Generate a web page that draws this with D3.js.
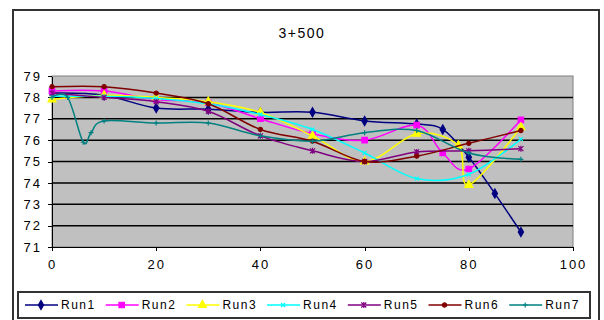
<!DOCTYPE html>
<html lang="en">
<head>
    <meta charset="UTF-8">
    <title>3+500</title>
    <style>
        body{
            margin: 0;
            background: #fff;
            font-family: "Liberation Sans", Arial, sans-serif;
        }
        .axis path,
        .axis line {
            fill: none;
            stroke: #000;
            shape-rendering: crispEdges;
        }
        .axis text {
            font-family: "Liberation Sans", Arial, sans-serif;
            font-size: 13px;
            letter-spacing: 2px;
            fill: #000;
        }
        .grid line {
            stroke: #000;
            stroke-width: 1.5;
        }
    </style>
</head>
<body>
    <svg width="604" height="320"></svg>
    <script src="https://d3js.org/d3.v7.min.js"></script>
    <script>
        // data
        var seriesNames = ["Run1", "Run2", "Run3", "Run4", "Run5", "Run6", "Run7"];
        var run1X = [0, 10, 20, 30, 40, 50, 60, 70, 75, 80, 85, 90];
        var run1Y = [78.2, 78.1, 77.5, 77.45, 77.3, 77.3, 76.9, 76.75, 76.5, 75.2, 73.5, 71.7];
        var run2X = [0, 10, 20, 30, 40, 50, 60, 70, 75, 80, 90];
        var run2Y = [78.3, 78.3, 77.9, 77.75, 77.0, 76.3, 76.0, 76.7, 75.4, 74.65, 76.95];
        var run3X = [0, 10, 20, 30, 40, 50, 60, 70, 78, 80, 90];
        var run3Y = [77.9, 78.1, 78.0, 77.8, 77.3, 76.2, 75.0, 76.3, 75.75, 73.9, 76.6];
        var run4X = [0, 10, 20, 30, 40, 50, 60, 70, 80, 90];
        var run4Y = [78.05, 78.05, 77.95, 77.7, 77.2, 76.5, 75.4, 74.2, 74.4, 76.05];
        var run5X = [0, 10, 20, 30, 40, 50, 60, 70, 80, 90];
        var run5Y = [78.2, 78.0, 77.8, 77.35, 76.2, 75.5, 75.0, 75.45, 75.5, 75.6];
        var run6X = [0, 10, 20, 30, 40, 50, 60, 70, 80, 90];
        var run6Y = [78.5, 78.5, 78.2, 77.7, 76.5, 75.95, 75.0, 75.25, 75.85, 76.45];
        var run7X = [0, 3, 6, 7.5, 10, 20, 30, 40, 50, 60, 70, 80, 90];
        var run7Y = [78.0, 78.0, 75.9, 76.35, 76.9, 76.8, 76.8, 76.2, 75.95, 76.35, 76.45, 75.4, 75.1];
        var xTicks = [0, 20, 40, 60, 80, 100];
        var yTicks = [71, 72, 73, 74, 75, 76, 77, 78, 79];

        var colors = ["#000080", "#ff00ff", "#ffff00", "#00ffff", "#800080", "#800000", "#008080"];
        var symbols = ["diamond", "square", "triangle", "x", "star", "circle", "plus"];

        var runs = [[run1X, run1Y], [run2X, run2Y], [run3X, run3Y], [run4X, run4Y],
                    [run5X, run5Y], [run6X, run6Y], [run7X, run7Y]].map(function(r, i){
            return {
                name: seriesNames[i],
                color: colors[i],
                symbol: symbols[i],
                values: r[0].map(function(x, j){ return {x: x, y: r[1][j]}; })
            };
        });

        var svg = d3.select("svg"),
            margin = {top: 76, right: 31, bottom: 73, left: 52},
            width = svg.attr("width") - margin.left - margin.right,
            height = svg.attr("height") - margin.top - margin.bottom;

        // outer chart frame
        svg.append("rect")
            .attr("x", 13).attr("y", 10)
            .attr("width", 586).attr("height", 320)
            .attr("fill", "#fff")
            .attr("stroke", "#333")
            .attr("stroke-width", 2);

        svg.append("text")
            .attr("x", 302)
            .attr("y", 38)
            .attr("text-anchor", "middle")
            .style("font-size", "14px")
            .style("letter-spacing", "1.5px")
            .text("3+500");

        var g = svg.append("g").attr("transform", "translate(" + margin.left + "," + margin.top + ")");

        var x = d3.scaleLinear().domain([0, 100]).range([0, width]);
        var y = d3.scaleLinear().domain([71, 79]).range([height, 0]);

        g.append("rect")
            .attr("width", width)
            .attr("height", height)
            .attr("fill", "#c0c0c0")
            .attr("stroke", "#808080");

        g.append("g")
            .attr("class", "grid")
            .selectAll("line")
            .data(yTicks.filter(function(d){ return d > 71 && d < 79; }))
            .enter().append("line")
            .attr("x1", 0)
            .attr("x2", width)
            .attr("y1", function(d){ return y(d); })
            .attr("y2", function(d){ return y(d); });

        g.append("g")
            .attr("class", "x axis")
            .attr("transform", "translate(0," + height + ")")
            .call(d3.axisBottom(x).tickValues(xTicks).tickSizeInner(4).tickSizeOuter(0).tickPadding(9));

        g.append("g")
            .attr("class", "y axis")
            .call(d3.axisLeft(y).tickValues(yTicks).tickSizeInner(4).tickSizeOuter(0).tickPadding(6));

        g.selectAll(".axis .domain").attr("stroke-width", 1.5);

        var line = d3.line()
            .x(function(d){ return x(d.x); })
            .y(function(d){ return y(d.y); })
            .curve(d3.curveCatmullRom.alpha(0));

        function markerPath(sym){
            if (sym === "x") return "M-2,-2L2,2M-2,2L2,-2";
            if (sym === "star") return "M-2.5,-2.5L2.5,2.5M-2.5,2.5L2.5,-2.5M0,-3V3";
            if (sym === "plus") return "M-2.5,0H2.5M0,-2.5V2.5";
            var t = {diamond: d3.symbolDiamond, square: d3.symbolSquare, triangle: d3.symbolTriangle, circle: d3.symbolCircle}[sym];
            var size = {diamond: 24, square: 30, triangle: 28, circle: 14}[sym];
            return d3.symbol().type(t).size(size)();
        }

        var series = g.selectAll(".run")
            .data(runs)
            .enter().append("g")
            .attr("class", "run");

        series.append("path")
            .attr("d", function(d){ return line(d.values); })
            .attr("fill", "none")
            .attr("stroke", function(d){ return d.color; })
            .attr("stroke-width", 1.5);

        series.selectAll(".pt")
            .data(function(d){ return d.values.map(function(v){ return {x: v.x, y: v.y, run: d}; }); })
            .enter().append("path")
            .attr("class", "pt")
            .attr("transform", function(d){ return "translate(" + x(d.x) + "," + y(d.y) + ")"; })
            .attr("d", function(d){ return markerPath(d.run.symbol); })
            .attr("fill", function(d){ return d.run.color; })
            .attr("stroke", function(d){ return d.run.color; })
            .attr("stroke-width", 1.2);

        // legend
        var lg = svg.append("g").attr("transform", "translate(18,292)");
        lg.append("rect")
            .attr("width", 572)
            .attr("height", 26)
            .attr("fill", "#fff")
            .attr("stroke", "#333")
            .attr("stroke-width", 2);

        var item = lg.selectAll(".legend")
            .data(runs)
            .enter().append("g")
            .attr("class", "legend")
            .attr("transform", function(d, i){ return "translate(" + (7 + i * 80.7) + ",13)"; });

        item.append("line")
            .attr("x1", 0).attr("x2", 33)
            .attr("stroke", function(d){ return d.color; })
            .attr("stroke-width", 1.5);

        item.append("path")
            .attr("transform", "translate(16,0)")
            .attr("d", function(d){ return markerPath(d.symbol); })
            .attr("fill", function(d){ return d.color; })
            .attr("stroke", function(d){ return d.color; })
            .attr("stroke-width", 1.2);

        item.append("text")
            .attr("x", 36)
            .attr("dy", "0.35em")
            .style("font-size", "12px")
            .style("letter-spacing", "1.5px")
            .text(function(d){ return d.name; });
    </script>
</body>
</html>
